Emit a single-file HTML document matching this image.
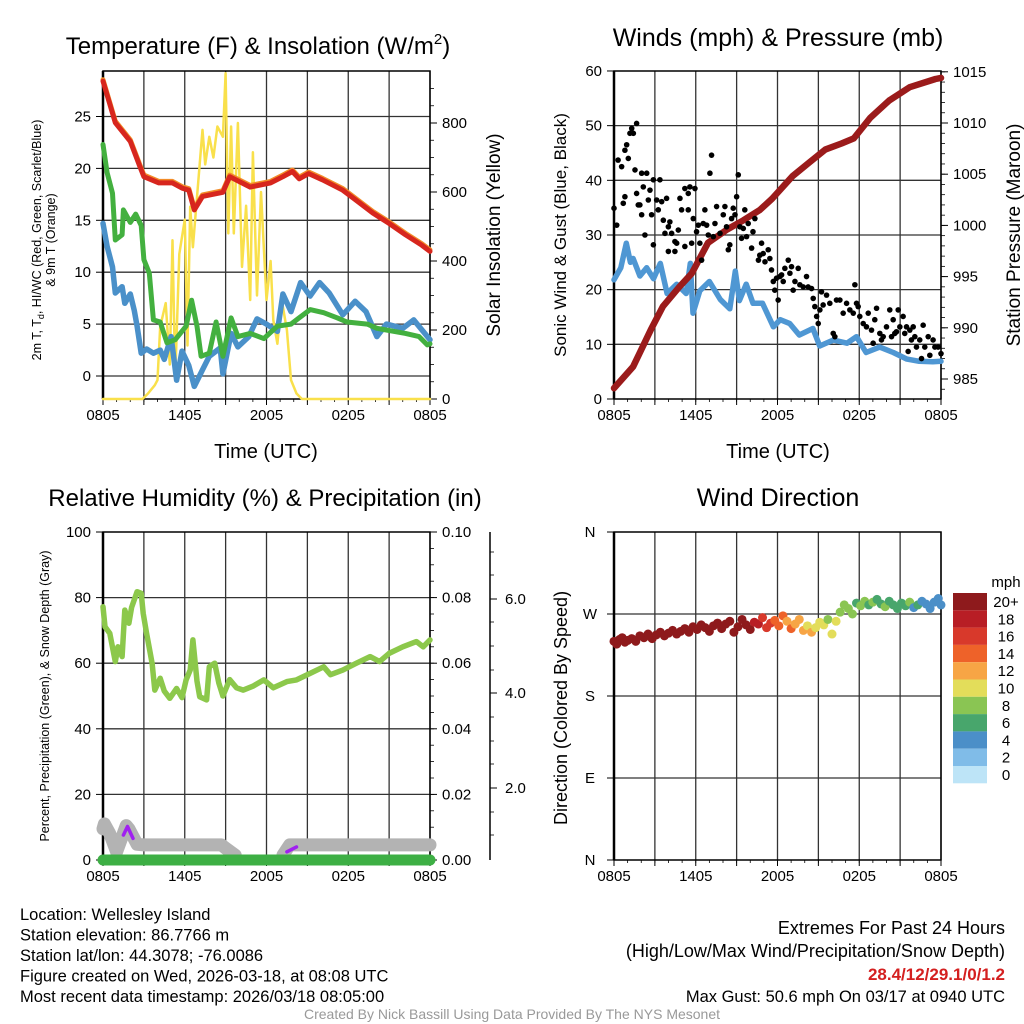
<!DOCTYPE html>
<html><head><meta charset="utf-8">
<style>
html,body{margin:0;padding:0;background:#fff;}
svg{display:block;font-family:"Liberation Sans",Arial,sans-serif;}
</style></head>
<body>
<svg id="c" width="1024" height="1024" viewBox="0 0 1024 1024"></svg>
<script>
// ---------- Panel 1 data ----------
const tempHours=[0,0.9,2,2.7,3.0,4.1,5.1,5.8,6.3,6.7,7.3,8.8,9.3,10.8,12.3,13.2,13.9,14.4,15.1,16.1,17.6,18.5,19.8,21.0,22.2,23.4,24];
const tempVals=[28.4,24.4,22.6,20.2,19.2,18.6,18.6,18.1,17.9,16.0,17.3,17.7,19.2,18.2,18.6,19.2,19.7,19.0,19.5,18.9,17.9,17.0,15.7,14.7,13.6,12.6,12.0];
const dewHours=[0,0.3,0.7,0.9,1.4,1.5,2,2.4,2.8,3.0,3.4,3.7,4.2,4.7,5.3,6.1,6.5,6.9,7.2,7.8,8.3,8.8,9.4,9.9,10.8,11.8,12.8,13.8,14.3,15.2,16.2,17.2,17.9,19.4,20.1,22.2,23.2,23.8,24];
const dewVals=[22.3,19.6,17.6,13.1,13.6,16.0,14.8,15.6,14.5,11.2,9.9,5.4,5.2,3.2,3.5,4.8,7.3,4.8,1.9,2.2,5.2,1.9,5.6,3.8,4.1,3.6,4.8,5.0,5.5,6.4,6.1,5.6,5.2,5.0,4.6,4.1,3.8,3.0,3.1];
const wcHours=[0,0.3,0.7,0.9,1.4,1.6,2,2.3,2.5,2.8,3.2,3.7,4.2,4.5,5.0,5.4,5.8,6.3,6.7,7.3,7.8,8.6,8.8,9.4,9.9,10.7,11.3,12.0,12.8,13.2,13.8,14.5,15.2,15.9,16.6,17.6,18.5,19.3,20.1,20.8,22.0,22.8,24];
const wcVals=[14.7,12.5,10.5,8.0,8.6,7.0,7.9,6.3,4.8,2.2,2.6,2.2,2.5,1.6,3.8,-0.4,2.4,1.0,-1.0,0.6,1.9,2.7,0.2,4.1,2.8,3.8,5.5,5.0,4.3,7.9,6.2,9.0,7.7,9.0,8.0,5.9,7.2,6.2,3.8,5.0,4.6,5.4,3.5];
const solarHours=[0,2.9,3.3,3.8,4.0,4.2,4.6,4.9,5.1,5.3,5.6,5.8,6.0,6.2,6.4,6.6,7.3,7.5,7.8,8.1,8.4,8.8,9.0,9.2,9.4,9.6,9.9,10.2,10.5,10.8,11.0,11.3,11.6,12.0,12.3,12.5,12.8,13.1,13.5,13.8,14.2,14.6,15.1,24];
const solarVals=[0,0,16,40,55,210,278,100,460,60,420,470,520,155,557,440,780,680,760,700,790,760,944,480,790,480,800,383,560,287,715,300,600,287,400,229,160,290,200,55,16,0,0,0];
// ---------- Panel 2 data ----------
const presHours=[0,1.4,2.7,3.6,4.8,5.7,6.9,8.3,9.5,10.7,11.6,13.1,14.3,15.5,16.7,17.6,18.8,20.2,21.7,23.6,24];
const presVals=[984.1,986.2,989.8,992.1,994.0,995.3,998.3,999.6,1000.5,1001.5,1002.6,1004.8,1006.1,1007.4,1008.0,1008.5,1010.5,1012.2,1013.5,1014.3,1014.4];
const sonicHours=[0,0.5,0.9,1.2,1.4,1.9,2.4,2.9,3.4,3.9,4.6,5.3,5.6,5.8,6.3,7.0,7.8,8.5,8.9,9.2,9.7,10.2,10.9,11.7,12.2,12.9,13.6,14.6,15.1,16.1,17.1,17.8,18.5,19.5,20.5,21.5,22.4,23.4,24];
const sonicVals=[21.8,24.0,28.5,25.0,25.7,22.5,24.0,22.0,24.8,19.3,21.0,19.3,24.8,15.7,19.8,21.5,18.2,16.5,23.4,18.0,21.0,17.5,17.5,13.2,14.5,13.8,11.7,12.9,9.7,10.8,10.2,11.4,8.5,9.5,8.5,7.3,6.9,6.8,6.9];
const gustHours=[0,0.2,0.3,0.56,0.68,0.8,0.8,0.93,1.05,1.17,1.3,1.42,1.54,1.66,1.66,1.78,1.9,2.03,2.03,2.15,2.27,2.4,2.52,2.64,2.76,2.89,2.89,3.13,3.25,3.37,3.5,3.62,3.74,3.86,3.99,4.1,4.23,3.99,4.47,4.47,4.6,4.72,4.84,4.96,5.2,5.2,5.45,5.45,5.57,5.7,5.82,5.94,6.06,6.19,6.3,6.43,6.55,6.67,6.8,6.92,7.04,7.16,7.29,7.41,7.53,7.78,8.02,8.14,8.26,8.39,8.5,8.63,8.75,8.88,9.0,9.12,9.24,9.36,9.49,9.6,9.73,9.85,10.1,10.2,10.34,10.6,10.7,10.83,10.95,11.08,11.32,11.44,11.56,11.69,11.8,11.93,12.05,12.18,12.3,12.42,12.54,12.79,12.91,13.03,13.15,13.28,13.52,13.64,13.89,14.13,14.25,14.5,14.62,14.74,14.87,14.99,15.11,15.23,15.35,15.6,15.84,16.09,16.21,16.33,16.58,16.82,17.07,17.31,17.56,17.68,17.8,17.92,18.04,18.29,18.53,18.66,18.9,19.02,19.14,19.27,19.51,19.63,19.76,20.0,20.24,20.37,20.49,20.61,20.73,20.86,20.98,21.22,21.34,21.47,21.59,21.71,21.83,21.96,22.08,22.2,22.44,22.57,22.69,22.81,23.06,23.18,23.42,23.55,23.79,24.0];
const gustVals=[34.9,31.8,43.7,42.5,35.8,37.0,45.5,46.5,44.0,48.6,49.5,48.6,41.9,50.4,37.6,35.5,35.5,33.7,41.3,38.8,30.0,41.3,36.4,38.2,33.7,40.1,28.2,36.4,34.6,40.1,36.1,32.7,30.3,36.7,31.5,32.4,30.3,27.0,27.0,28.8,28.5,30.9,36.7,34.6,38.5,27.9,37.6,34.6,38.8,28.5,33.0,38.5,30.6,31.8,28.5,25.4,32.1,34.6,31.8,30.0,41.3,44.6,29.7,32.1,35.2,30.3,33.7,35.2,31.5,27.3,28.2,33.0,34.9,33.7,37.0,41.0,31.5,29.4,31.2,34.6,29.7,32.1,27.6,30.6,33.0,25.4,26.3,28.5,26.6,25.1,27.3,25.7,23.6,21.5,19.9,22.1,18.1,22.4,22.7,21.5,23.9,25.4,23.0,24.2,19.9,21.5,23.9,20.9,20.5,22.4,20.5,20.2,18.4,16.9,15.1,13.8,16.3,19.6,17.2,19.0,17.5,12.0,11.4,18.1,18.1,15.7,17.5,16.3,15.7,20.9,17.5,16.9,15.1,13.8,13.2,15.7,12.6,10.2,14.5,16.6,12.0,10.8,11.4,13.2,16.3,11.4,14.5,12.0,12.3,16.3,13.2,15.1,12.0,13.2,8.7,12.6,10.8,13.2,11.4,9.5,10.8,7.4,13.5,9.5,11.4,8.0,10.8,9.5,9.5,8.3];
// ---------- Panel 3 data ----------
const rhHours=[0,0.15,0.5,0.9,1.1,1.4,1.6,1.9,2.1,2.5,2.8,2.95,3.2,3.6,3.8,4.2,4.5,4.9,5.4,5.8,6.1,6.4,6.6,6.9,7.1,7.6,7.8,8.2,8.5,8.8,9.3,9.8,10.3,11.0,11.8,12.5,13.5,14.2,15.2,16.2,16.7,17.6,18.6,19.6,20.3,21.0,22.0,23.0,23.5,24];
const rhVals=[77.2,71.1,69.1,60.5,65.0,62.0,76.2,72.2,77.0,81.8,81.3,75.2,69.1,60.0,51.8,55.4,51.5,49.3,52.3,49.5,54.9,57.9,67.1,54.5,49.8,48.8,58.9,60.0,54.0,50.0,55.0,52.5,51.8,53.0,54.9,52.5,54.4,54.9,56.9,58.9,56.5,57.9,60.0,62.0,60.5,63.0,65.0,66.6,65.0,67.1];
const snowHours=[0,0.1,0.5,1.0,1.7,1.9,2.5,3.0,4.0,6.0,8.0,8.7,9.0,9.7,10.0,12.9,13.2,13.7,14.5,16.0,18.0,20.0,22.0,24.0];
const snowVals=[9.5,11.0,8.0,2.5,10.5,9.5,4.8,4.6,4.6,4.6,4.6,4.6,3.6,1.5,null,null,1.5,4.6,4.6,4.6,4.6,4.6,4.6,4.6];
const precipHours=[0,24];
const precipVals=[0,0];
const purpleHours=[1.5,1.8,2.2,13.5,14.2];
const purpleVals=[7.6,10.2,6.6,2.5,4.0];
// ---------- Panel 4 data ----------
const wdHours=[0,0.2,0.4,0.6,0.8,1.0,1.3,1.6,1.9,2.2,2.5,2.8,3.1,3.4,3.7,4.0,4.3,4.6,4.9,5.2,5.5,5.8,6.1,6.4,6.7,7.0,7.3,7.6,7.9,8.2,8.5,8.8,9.1,9.4,9.7,10.0,10.3,10.6,10.9,11.2,11.5,11.8,12.1,12.4,12.7,13.0,13.3,13.6,13.9,14.2,14.5,14.8,15.1,15.4,15.7,16.0,16.3,16.6,16.9,17.2,17.5,17.8,18.1,18.4,18.7,19.0,19.3,19.6,19.9,20.2,20.5,20.8,21.1,21.4,21.7,22.0,22.3,22.6,22.9,23.2,23.5,23.8,24.0];
const wdDirs=[240,237,242,244,239,241,243,240,246,244,248,243,247,250,246,249,252,248,251,254,250,256,253,258,255,251,257,260,254,259,262,250,256,264,258,253,261,259,266,255,260,263,257,268,262,254,259,264,252,257,250,255,261,258,264,248,262,272,280,276,270,282,279,284,280,283,286,281,278,284,280,276,282,279,283,277,280,284,281,276,283,287,280];
const wdSpeeds=[22,22,22,22,22,22,22,22,22,22,22,22,22,22,22,22,22,22,22,22,22,22,22,22,22,22,22,22,22,22,22,22,22,22,22,20,18,19,17,17,16,15,15,14,13,14,13,12,13,11,12,11,10,10,9,10,11,9,8,9,8,7,9,8,7,8,7,7,8,7,6,7,6,6,9,5,6,5,4,5,4,4,4];
const cbLabels=["20+","18","16","14","12","10","8","6","4","2","0"];
const cbColors=["#8e1a1c","#b81e25","#d8392b","#ee6229","#f7a545","#e3dd5a","#8ac553","#48a66c","#4b8fc8","#80bce8","#bde4f7"];
const xTickLabels=["0805","1405","2005","0205","0805"];

const NS="http://www.w3.org/2000/svg";
const svg=document.getElementById('c');
function mk(tag,attrs,parent){const e=document.createElementNS(NS,tag);for(const k in attrs)e.setAttribute(k,attrs[k]);(parent||svg).appendChild(e);return e;}
function txt(s,x,y,size,anchor,parent,extra){const t=mk('text',Object.assign({x:x,y:y,'font-size':size,'text-anchor':anchor||'middle',fill:'#000'},extra||{}),parent);t.textContent=s;return t;}

function panel(x0,x1,y0,y1){return {x0,x1,y0,y1,sx:h=>x0+(x1-x0)*h/24};}
const P1=panel(103,430,71,399), P2=panel(614,941,71,399), P3=panel(103,430,532,860), P4=panel(614,941,532,860);
const yT=v=>376-v*10.38, yS=v=>399-v*0.345;
const yW=v=>399-v*5.467, yP=v=>379-(v-985)*10.24;
const yR=v=>860-v*3.28, yPr=v=>860-v*3280;
const yD=v=>860-v*0.9111;

function grid(P,yvals,name){
  const g=mk('g',{});
  
  
  for(let i=0;i<=8;i++){const x=P.sx(i*3);mk('line',{x1:x,x2:x,y1:P.y0,y2:P.y1,stroke:'#333','stroke-width':1.3},g);}
  yvals.forEach(y=>mk('line',{x1:P.x0,x2:P.x1,y1:y,y2:y,stroke:'#333','stroke-width':1.3},g));
  for(let i=0;i<=8;i++){const x=P.sx(i*3);mk('line',{x1:x,x2:x,y1:P.y1,y2:P.y1+6,stroke:'#000','stroke-width':1},g);}
  for(let i=0;i<=24;i++){const x=P.sx(i);mk('line',{x1:x,x2:x,y1:P.y1,y2:P.y1+3,stroke:'#000','stroke-width':0.8},g);}
  xTickLabels.forEach((s,i)=>{const t=txt(s,P.sx(i*6),P.y1+21,15,'middle',g);
    
    });
  mk('rect',{x:P.x0,y:P.y0,width:P.x1-P.x0,height:P.y1-P.y0,fill:'none',stroke:'#000','stroke-width':1.5},g);
  mk('line',{x1:P.x0,x2:P.x0,y1:P.y0,y2:P.y1,stroke:'#000','stroke-width':2.5},g);
  return g;
}
function line(xs,ys,fx,fy,P,color,w,name){
  let d='',pen=false;
  for(let i=0;i<xs.length;i++){
    if(ys[i]===null||ys[i]===undefined){pen=false;continue;}
    d+=(pen?'L':'M')+P.sx(xs[i]).toFixed(1)+' '+fy(ys[i]).toFixed(1);pen=true;
  }
  const p=mk('path',{d:d,fill:'none',stroke:color,'stroke-width':w,'stroke-linejoin':'round','stroke-linecap':'round'});
  
  
  return p;
}
function leftTicks(P,vals,fy,labels,g){
  vals.forEach((v,i)=>{const y=fy(v);mk('line',{x1:P.x0-7,x2:P.x0,y1:y,y2:y,stroke:'#000'},g);
    const t=txt(labels[i],P.x0-12,y+5,15,'end',g);
    
    });
}
function rightTicks(P,vals,fy,labels,g,x){
  const xx=x||P.x1;
  vals.forEach((v,i)=>{const y=fy(v);mk('line',{x1:xx,x2:xx+7,y1:y,y2:y,stroke:'#000'},g);
    const t=txt(labels[i],xx+12,y+5,15,'start',g);
    
    });
}

// ===== Panel 1 =====
const g1=grid(P1,[0,5,10,15,20,25].map(yT),'temperature');
const ax1=mk('g',{});


leftTicks(P1,[0,5,10,15,20,25],yT,['0','5','10','15','20','25'],ax1);
rightTicks(P1,[0,200,400,600,800],yS,['0','200','400','600','800'],ax1);
for(let v=50;v<=900;v+=50){const y=yS(v);mk('line',{x1:P1.x1,x2:P1.x1+4,y1:y,y2:y,stroke:'#000','stroke-width':0.8},ax1);}
line(solarHours,solarVals,null,yS,P1,'#f9e04b',2.5,'solar-insolation-line');
line(wcHours,wcVals,null,yT,P1,'#4a90c9',5.5,'wind-chill-line');
line(dewHours,dewVals,null,yT,P1,'#43b03f',5,'dewpoint-line');
line(tempHours,tempVals.map(v=>v+0.15),null,yT,P1,'#f28c28',5,'temp-9m-line');
line(tempHours,tempVals,null,yT,P1,'#d7261e',5,'temp-2m-line');
let t;
t=txt('Temperature (F) & Insolation (W/m',258,54,24,'middle');


const sup=mk('tspan',{dy:-10,'font-size':15},t);sup.textContent='2';
const sup2=mk('tspan',{dy:10},t);sup2.textContent=')';
t=txt('Time (UTC)',266,458,20,'middle');


t=txt('2m T, T',0,0,12.5,'middle',null,{transform:'translate(41,240) rotate(-90)'});


const sub=mk('tspan',{dy:3,'font-size':9},t);sub.textContent='d';
const sub2=mk('tspan',{dy:-3},t);sub2.textContent=', HI/WC (Red, Green, Scarlet/Blue)';
t=txt('& 9m T (Orange)',0,0,12.5,'middle',null,{transform:'translate(55,240) rotate(-90)'});


t=txt('Solar Insolation (Yellow)',0,0,19,'middle',null,{transform:'translate(500,235) rotate(-90)'});



// ===== Panel 2 =====
const g2=grid(P2,[10,20,30,40,50].map(yW),'winds');
const ax2=mk('g',{});


leftTicks(P2,[0,10,20,30,40,50,60],yW,['0','10','20','30','40','50','60'],ax2);
rightTicks(P2,[985,990,995,1000,1005,1010,1015],yP,['985','990','995','1000','1005','1010','1015'],ax2);
for(let v=984;v<=1015;v+=1){const y=yP(v);mk('line',{x1:P2.x1,x2:P2.x1+4,y1:y,y2:y,stroke:'#000','stroke-width':0.8},ax2);}
line(sonicHours,sonicVals,null,yW,P2,'#4f97d3',5.5,'sonic-wind-line');
line(presHours,presVals,null,yP,P2,'#9b1b1b',6.5,'pressure-line');
const gg=mk('g',{});


for(let i=0;i<Math.min(gustHours.length,gustVals.length);i++){
  const c=mk('circle',{cx:P2.sx(gustHours[i]),cy:yW(gustVals[i]),r:2.8,fill:'#000'},gg);
  
  
}
t=txt('Winds (mph) & Pressure (mb)',778,46,25,'middle');


t=txt('Time (UTC)',778,458,20,'middle');


t=txt('Sonic Wind & Gust (Blue, Black)',0,0,17,'middle',null,{transform:'translate(566,235) rotate(-90)'});


t=txt('Station Pressure (Maroon)',0,0,19,'middle',null,{transform:'translate(1020,235) rotate(-90)'});



// ===== Panel 3 =====
const g3=grid(P3,[20,40,60,80].map(yR),'humidity');
const ax3=mk('g',{});


leftTicks(P3,[0,20,40,60,80,100],yR,['0','20','40','60','80','100'],ax3);
rightTicks(P3,[0,0.02,0.04,0.06,0.08,0.10],yPr,['0.00','0.02','0.04','0.06','0.08','0.10'],ax3);
for(let v=0;v<=0.1001;v+=0.005){const y=yPr(v);mk('line',{x1:P3.x1,x2:P3.x1+4,y1:y,y2:y,stroke:'#000','stroke-width':0.8},ax3);}
mk('line',{x1:490,x2:490,y1:532,y2:860,stroke:'#000','stroke-width':1.5},ax3);
[[788,'2.0'],[693,'4.0'],[599,'6.0']].forEach(a=>{mk('line',{x1:490,x2:497,y1:a[0],y2:a[0],stroke:'#000'},ax3);
  const tt=txt(a[1],505,a[0]+5,15,'start',ax3);
  
  });
[835,812,764,741,717,670,646,622,575,552].forEach(y=>mk('line',{x1:490,x2:494,y1:y,y2:y,stroke:'#000','stroke-width':0.8},ax3));
line(snowHours,snowVals,null,yR,P3,'#b3b3b3',13,'snow-depth-line');
line(precipHours,precipVals,null,yPr,P3,'#3daf44',11,'precipitation-line');
line(purpleHours.slice(0,3),purpleVals.slice(0,3),null,yR,P3,'#a020f0',3.5,'precip-rate-line-1');
line(purpleHours.slice(3),purpleVals.slice(3),null,yR,P3,'#a020f0',3.5,'precip-rate-line-2');
line(rhHours,rhVals,null,yR,P3,'#8cc84b',5.5,'humidity-line');
t=txt('Relative Humidity (%) & Precipitation (in)',265,506,24,'middle');


t=txt('Percent, Precipitation (Green), & Snow Depth (Gray)',0,0,12.5,'middle',null,{transform:'translate(49,696) rotate(-90)'});



// ===== Panel 4 =====
const g4=grid(P4,[90,180,270].map(yD),'wind-direction');
const ax4=mk('g',{});


[[0,'N'],[90,'E'],[180,'S'],[270,'W'],[360,'N']].forEach(a=>{const y=yD(a[0]);mk('line',{x1:P4.x0-7,x2:P4.x0,y1:y,y2:y,stroke:'#000'},ax4);
  const tt=txt(a[1],590,y+5,15,'middle',ax4);
  
  });
const gd=mk('g',{});


const nD=Math.min(wdHours.length,wdDirs.length,wdSpeeds.length);
for(let i=0;i<nD;i++){
  const idx=Math.min(10,Math.floor(wdSpeeds[i]/2));
  const c=mk('circle',{cx:P4.sx(wdHours[i]),cy:yD(wdDirs[i]),r:4.5,fill:cbColors[10-idx]},gd);
  
  
}
t=txt('Wind Direction',778,506,25,'middle');


t=txt('Direction (Colored By Speed)',0,0,18,'middle',null,{transform:'translate(567,708) rotate(-90)'});


const cb=mk('g',{});


cbColors.forEach((c,i)=>{mk('rect',{x:953,y:593+i*17.3,width:34,height:17.3,fill:c},cb);
  const tt=txt(cbLabels[i],1006,593+i*17.3+14,15,'middle',cb);
  
  });
t=txt('mph',1006,587,15,'middle',cb);



// ===== Footer =====
const left=['Location: Wellesley Island','Station elevation: 86.7766 m','Station lat/lon: 44.3078; -76.0086','Figure created on Wed, 2026-03-18, at 08:08 UTC','Most recent data timestamp: 2026/03/18 08:05:00'];
left.forEach((s,i)=>{const tt=txt(s,20,920+i*20.5,16.5,'start');
  
  });
t=txt('Extremes For Past 24 Hours',1005,934,18,'end');


t=txt('(High/Low/Max Wind/Precipitation/Snow Depth)',1005,957,18,'end');


t=txt('28.4/12/29.1/0/1.2',1005,980,17,'end',null,{fill:'#d42020','font-weight':'bold'});


t=txt('Max Gust: 50.6 mph On 03/17 at 0940 UTC',1005,1002,16.5,'end');


t=txt('Created By Nick Bassill Using Data Provided By The NYS Mesonet',512,1019,14,'middle',null,{fill:'#999'});


</script>
</body></html>
